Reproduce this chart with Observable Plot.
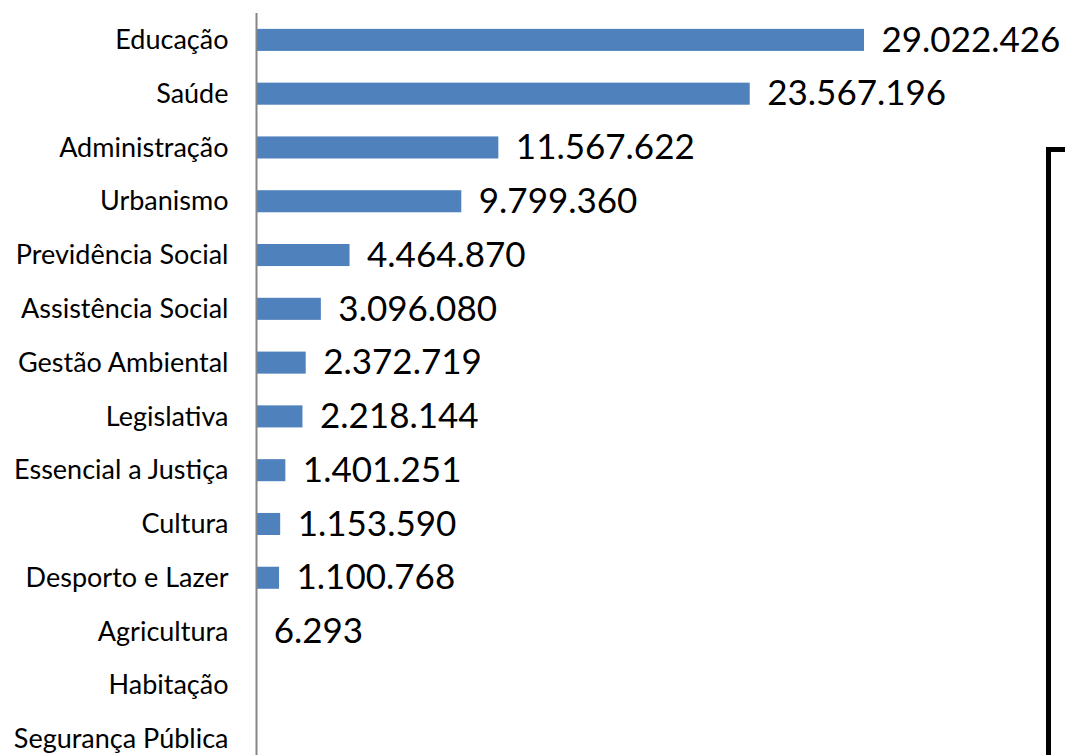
<!DOCTYPE html>
<html>
<head>
<meta charset="utf-8">
<script src="https://cdn.jsdelivr.net/npm/d3@7"></script>
<script src="https://cdn.jsdelivr.net/npm/@observablehq/plot@0.6"></script>
<style>
  html, body { margin: 0; padding: 0; background: #fff; overflow: hidden; }
  #wrap { position: relative; width: 1065px; height: 755px; }
  #box { position: absolute; left: 1046px; top: 147px; width: 40px; height: 700px;
         border-left: 5px solid #000; border-top: 5px solid #000; }
</style>
</head>
<body>
<div id="wrap"><div id="chart"></div><div id="box"></div></div>
<script>
const categories = ["Educação", "Saúde", "Administração", "Urbanismo", "Previdência Social",
  "Assistência Social", "Gestão Ambiental", "Legislativa", "Essencial a Justiça", "Cultura",
  "Desporto e Lazer", "Agricultura", "Habitação", "Segurança Pública"];
const values = [29022426, 23567196, 11567622, 9799360, 4464870, 3096080, 2372719, 2218144,
  1401251, 1153590, 1100768, 6293, null, null];
const labels = ["29.022.426", "23.567.196", "11.567.622", "9.799.360", "4.464.870", "3.096.080",
  "2.372.719", "2.218.144", "1.401.251", "1.153.590", "1.100.768", "6.293", "", ""];

const data = categories.map((c, i) => ({cat: c, v: values[i], label: labels[i]}));

const chart = Plot.plot({
  width: 1065,
  height: 766,
  marginTop: 13,
  marginBottom: 0,
  marginLeft: 256,
  marginRight: 201,
  style: {fontFamily: "Lato", background: "#fff"},
  x: {domain: [0, 29022426], axis: null},
  y: {domain: categories, paddingInner: 0.59, paddingOuter: 0.295, round: false, label: null},
  marks: [
    Plot.barX(data.filter(d => d.v != null), {x: "v", y: "cat", fill: "#4F81BD"}),
    Plot.text(data.filter(d => d.v != null), {x: "v", y: "cat", text: "label", textAnchor: "start", dx: 17, fontSize: 35, fill: "#000"}),
    Plot.ruleX([0], {stroke: "#868686", strokeWidth: 2}),
    Plot.axisY({tickSize: 0, tickPadding: 28, fontSize: 27, label: null, fill: "#000"})
  ]
});
chart.querySelectorAll("text").forEach(t => t.style.fill = "#000");
document.getElementById("chart").appendChild(chart);
</script>
</body>
</html>
